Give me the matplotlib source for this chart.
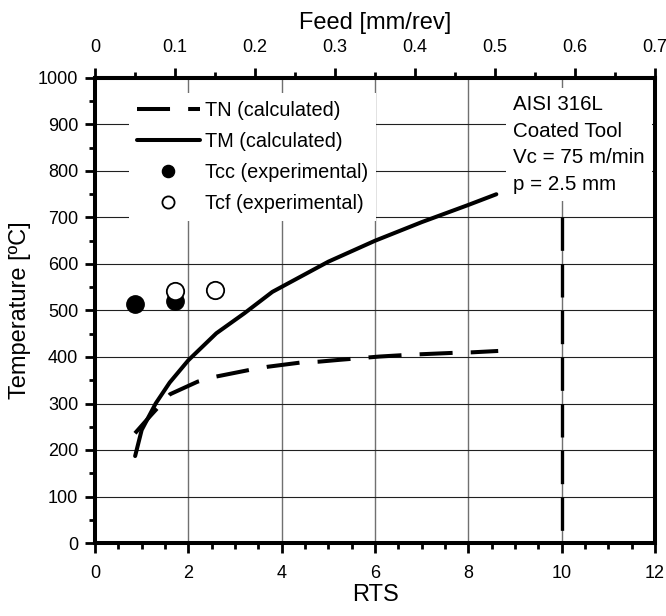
import matplotlib
matplotlib.use('Agg')
import matplotlib.pyplot as plt
from matplotlib.ticker import MultipleLocator

plt.rcParams['font.family'] = ['Liberation Sans', 'DejaVu Sans']

# TN (calculated), dashed curve
tn_rts = [0.857, 1.2, 1.61, 2.2, 2.6, 3.3, 3.7, 4.4, 4.8, 5.25, 6.1, 6.6, 7.0, 7.7, 8.07, 8.64]
tn_temp = [236, 275, 320, 347, 358, 372, 379, 388, 390, 394, 401, 404, 406, 409, 410, 413]

# TM (calculated), solid curve
tm_rts = [0.86, 1.0, 1.3, 1.6, 2.0, 2.6, 3.2, 3.8, 5.0, 6.0, 7.0, 8.0, 8.6]
tm_temp = [187, 243, 300, 345, 393, 451, 494, 540, 605, 650, 690, 727, 750]

# experimental points
tcc_rts = [0.857, 1.714]
tcc_temp = [515, 520]
tcf_rts = [1.714, 2.571]
tcf_temp = [541, 545]

# vertical limit line (drawn top-down so the dashes start at the top)
limit_rts = [10, 10]
limit_temp = [700, 0]

feed_ticks = [0, 0.1, 0.2, 0.3, 0.4, 0.5, 0.6, 0.7]
feed_labels = ['0', '0.1', '0.2', '0.3', '0.4', '0.5', '0.6', '0.7']

info_text = "AISI 316L\nCoated Tool\nVc = 75 m/min\np = 2.5 mm"

fig = plt.figure(figsize=(6.66, 6.16), dpi=100)
ax = fig.add_axes([95/666, 1 - 543/616, 560/666, 465/616])

ax.set_xlim(0, 12)
ax.set_ylim(0, 1000)

# grid
for x in [2, 4, 6, 8, 10]:
    ax.axvline(x, color='#707070', lw=1.0, zorder=0)
for y in range(100, 1000, 100):
    ax.axhline(y, color='#202020', lw=0.8, zorder=0)

ax.plot(limit_rts, limit_temp, color='black', lw=2.4, dashes=(10, 4), zorder=3)
ax.plot(tn_rts, tn_temp, color='black', lw=2.9, dashes=(8.2, 4.5), label='TN (calculated)', zorder=3)
ax.plot(tm_rts, tm_temp, color='black', lw=2.9, solid_capstyle='round', label='TM (calculated)', zorder=3)
ax.plot(tcc_rts, tcc_temp, 'o', color='black', ms=12.5, label='Tcc (experimental)', zorder=4)
ax.plot(tcf_rts, tcf_temp, 'o', mfc='white', mec='black', mew=1.3, ms=12.5, label='Tcf (experimental)', zorder=5)

leg = ax.legend(loc='upper left', bbox_to_anchor=(0.0607, 0.968), fontsize=14.3, handlelength=3.17,
                handletextpad=0.25, labelspacing=0.61, markerscale=0.7, borderaxespad=0,
                borderpad=0.4, frameon=True, fancybox=False, framealpha=1)
leg.get_frame().set_edgecolor('none')
leg.get_frame().set_facecolor('white')
leg.set_zorder(6)

ax.text(0.7464, 0.9624, info_text, transform=ax.transAxes, fontsize=14.8, va='top', ha='left',
        linespacing=1.5, bbox=dict(facecolor='white', edgecolor='none', pad=5), zorder=6)

ax.xaxis.set_major_locator(MultipleLocator(2))
ax.xaxis.set_minor_locator(MultipleLocator(0.5))
ax.yaxis.set_major_locator(MultipleLocator(100))
ax.yaxis.set_minor_locator(MultipleLocator(50))
ax.tick_params(which='major', direction='out', length=7, width=2, labelsize=13)
ax.tick_params(which='minor', direction='out', length=4, width=2)
ax.tick_params(axis='x', which='major', pad=8.5)
ax.tick_params(axis='y', which='major', pad=5)
ax.tick_params(axis='y', which='both', right=False)
ax.tick_params(axis='x', which='both', top=False)

for s in ax.spines.values():
    s.set_linewidth(2.9)

ax.set_xlabel('RTS', fontsize=17, labelpad=2)
ax.set_ylabel('Temperature [ºC]', fontsize=17, labelpad=5)

top = ax.secondary_xaxis('top', functions=(lambda r: r * 0.7 / 12, lambda f: f * 12 / 0.7))
top.xaxis.set_minor_locator(MultipleLocator(0.05))
top.set_xticks(feed_ticks, feed_labels)
top.tick_params(which='major', direction='out', length=7, width=2, labelsize=13, pad=9)
top.tick_params(which='minor', direction='out', length=4, width=2)
top.spines['top'].set_linewidth(2.9)
top.set_xlabel('Feed [mm/rev]', fontsize=17, labelpad=7)

fig.savefig('out.png', dpi=100)
